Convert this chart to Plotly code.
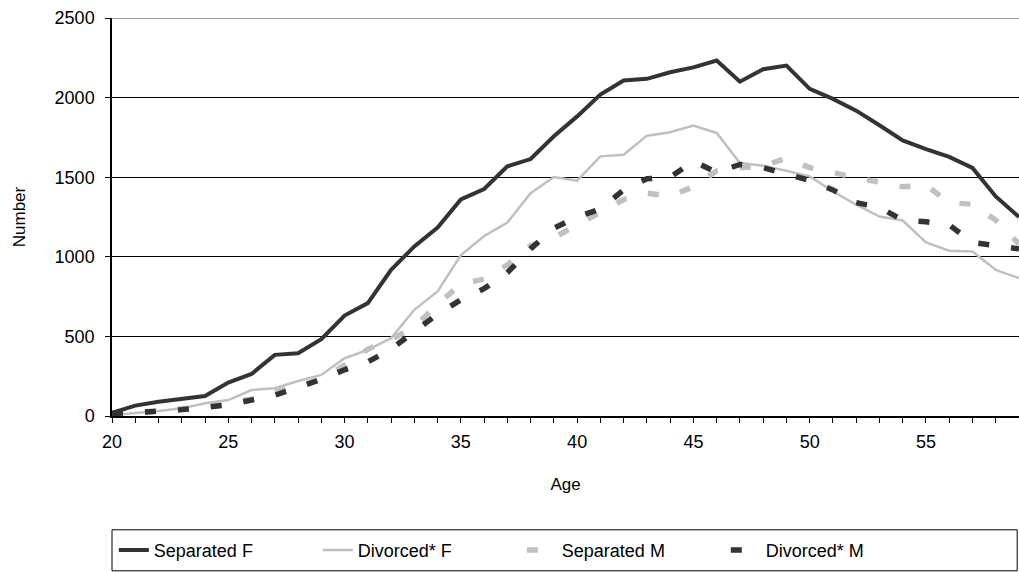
import plotly.graph_objects as go

# Ages 20..59
ages = list(range(20, 60))

separated_f = [20, 65, 90, 107, 126, 210, 264, 384, 394, 482,
               631, 709, 918, 1065, 1184, 1360, 1426, 1568, 1614, 1757,
               1882, 2019, 2107, 2118, 2159, 2190, 2233, 2100, 2178, 2201,
               2055, 1992, 1918, 1826, 1731, 1677, 1627, 1558, 1379, 1250]

divorced_f = [6, 17, 31, 48, 80, 100, 163, 174, 220, 258,
              363, 415, 489, 667, 782, 1010, 1130, 1215, 1400, 1501,
              1478, 1631, 1641, 1761, 1782, 1824, 1778, 1589, 1572, 1541,
              1505, 1411, 1327, 1253, 1228, 1090, 1038, 1033, 918, 866]

separated_m = [5, 15, 30, 45, 60, 90, 105, 150, 190, 230,
               320, 420, 480, 560, 700, 830, 860, 950, 1070, 1120,
               1200, 1280, 1360, 1400, 1380, 1440, 1540, 1560, 1570, 1620,
               1560, 1530, 1495, 1470, 1440, 1450, 1340, 1330, 1230, 1080]

divorced_m = [15, 20, 30, 40, 55, 70, 100, 130, 180, 230,
              290, 340, 420, 530, 640, 730, 800, 900, 1050, 1180,
              1250, 1300, 1420, 1490, 1500, 1600, 1530, 1580, 1560, 1520,
              1480, 1420, 1340, 1310, 1230, 1220, 1200, 1090, 1070, 1050]

FONT = "Liberation Sans, Arial, sans-serif"

fig = go.Figure()
fig.add_trace(go.Scatter(x=ages, y=separated_f, mode="lines", name="Separated F",
                         line=dict(color="#333333", width=4)))
fig.add_trace(go.Scatter(x=ages, y=divorced_f, mode="lines", name="Divorced* F",
                         line=dict(color="#c0c0c0", width=2.5)))
fig.add_trace(go.Scatter(x=ages, y=separated_m, mode="lines", name="Separated M",
                         line=dict(color="#c0c0c0", width=5.5, dash="11px,22px")))
fig.add_trace(go.Scatter(x=ages, y=divorced_m, mode="lines", name="Divorced* M",
                         line=dict(color="#333333", width=5.5, dash="11px,22px")))

# gray top frame line and legend box
fig.add_shape(type="line", xref="paper", yref="y", x0=0, x1=1, y0=2500, y1=2500,
              line=dict(color="#808080", width=1.5))
fig.add_shape(type="rect", xref="paper", yref="paper", x0=0, x1=0.998,
              y0=-0.389, y1=-0.286, line=dict(color="black", width=1))

fig.update_layout(
    width=1019, height=572,
    margin=dict(l=112, r=0, t=18, b=156),
    plot_bgcolor="white", paper_bgcolor="white",
    font=dict(family=FONT, size=18, color="black"),
    showlegend=True,
    legend=dict(orientation="h", x=0.002, y=-0.291, yanchor="top", xanchor="left",
                entrywidth=159, font=dict(size=18), bgcolor="rgba(0,0,0,0)"),
    xaxis=dict(
        range=[20, 59], tickmode="linear", tick0=20, dtick=5,
        showline=True, linecolor="black", linewidth=1.5,
        ticks="outside", ticklen=5, tickcolor="black",
        minor=dict(dtick=1, ticks="outside", ticklen=5, tickcolor="black", showgrid=False),
        showgrid=False, zeroline=False, ticklabelstandoff=4,
        title=dict(text="Age", font=dict(size=17), standoff=27),
    ),
    yaxis=dict(
        range=[0, 2500], tickmode="linear", tick0=0, dtick=500,
        showline=True, linecolor="black", linewidth=1.5,
        ticks="outside", ticklen=5, tickcolor="black",
        showgrid=True, gridcolor="black", gridwidth=1, zeroline=False,
        ticklabelstandoff=7,
        title=dict(text="Number", font=dict(size=17), standoff=25),
    ),
)

# drop the default page margin so the figure fills the window exactly
fig.write_html("out.html", config={"displayModeBar": False}, post_script=(
    "document.body.style.margin='0';"
    "document.body.style.overflow='hidden';"
    "document.documentElement.style.overflow='hidden';"
))
